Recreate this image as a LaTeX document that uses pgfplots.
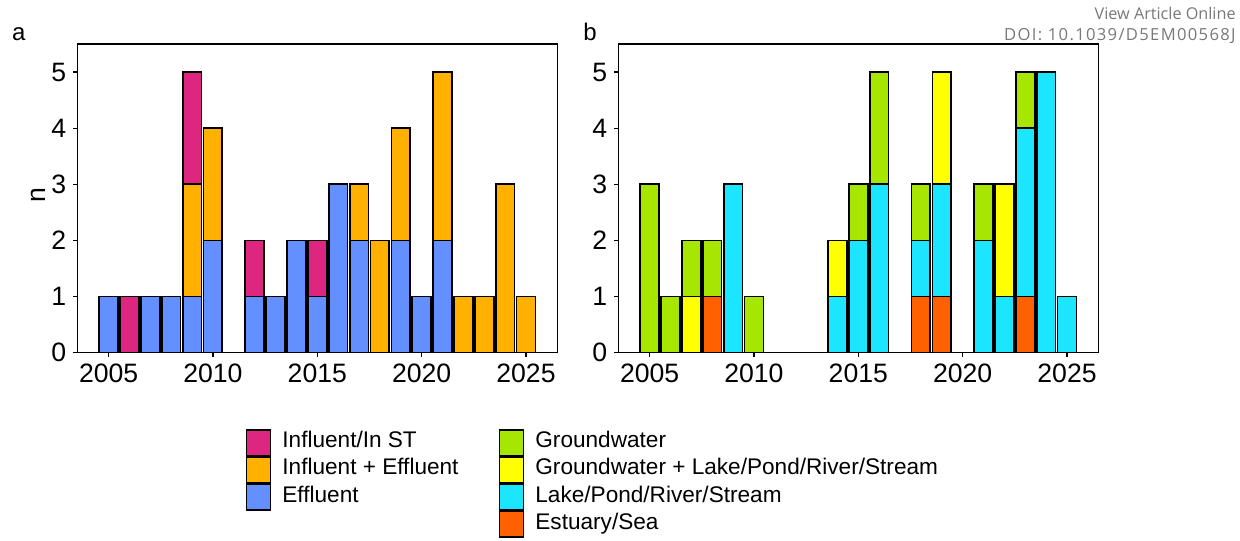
\documentclass[border=0pt]{standalone}
\usepackage{pgfplots}
\pgfplotsset{compat=1.18}
\usepackage{pgfplotstable}
\usepackage{fontspec}
\setmainfont{Liberation Sans}
\newfontfamily\wmfont{Open Sans}

\definecolor{influent}{HTML}{DC267F}
\definecolor{infeff}{HTML}{FFB000}
\definecolor{effluent}{HTML}{648FFF}
\definecolor{gw}{HTML}{A6E600}
\definecolor{gwl}{HTML}{FFFF00}
\definecolor{lake}{HTML}{1CE6FF}
\definecolor{sea}{HTML}{FF6100}
\definecolor{wmgrey}{RGB}{120,120,120}

% panel a: effluent / influent+effluent / influent (In ST)
\pgfplotstableread{
year eff ie inf
2005 1 0 0
2006 0 0 1
2007 1 0 0
2008 1 0 0
2009 1 2 2
2010 2 2 0
2012 1 0 1
2013 1 0 0
2014 2 0 0
2015 1 0 1
2016 3 0 0
2017 2 1 0
2018 0 2 0
2019 2 2 0
2020 1 0 0
2021 2 3 0
2022 0 1 0
2023 0 1 0
2024 0 3 0
2025 0 1 0
}\tabA

% panel b: estuary / lake / groundwater+lake / groundwater
\pgfplotstableread{
year sea lake gwl gw
2005 0 0 0 3
2006 0 0 0 1
2007 0 0 1 1
2008 1 0 0 1
2009 0 3 0 0
2010 0 0 0 1
2014 0 1 1 0
2015 0 2 0 1
2016 0 3 0 2
2018 1 1 0 1
2019 1 2 2 0
2021 0 2 0 1
2022 0 1 2 0
2023 1 3 0 1
2024 0 5 0 0
2025 0 1 0 0
}\tabB

\pgfplotsset{
  panel/.style={
    scale only axis, width=240pt, height=154.35pt,
    ybar stacked, bar width=0.9,
    xmin=2003.5, xmax=2026.5, ymin=0, ymax=5.5,
    xtick={2005,2010,...,2025}, ytick={0,...,5},
    /pgf/number format/1000 sep={},
    /pgf/number format/assume math mode=true,
    tick label style={font=\fontsize{13.3}{15}\selectfont},
    tick align=outside, tick pos=left,
    major tick length=2pt,
    tick style={black, line width=0.6pt},
    axis line style={black, line width=0.6pt},
    every axis plot/.append style={draw=black, line width=0.85pt},
    reverse legend,
    legend cell align=left,
    legend image code/.code={\draw[##1, line width=0.85pt] (0pt,-6.35pt) rectangle (12pt,6.35pt);},
    legend style={draw=none, fill=none, inner sep=0pt, row sep=0pt,
      font=\fontsize{11.3}{13}\selectfont,
      nodes={inner sep=0pt, text height=9pt, text depth=4pt},
      /tikz/every odd column/.append style={column sep=5.5pt},
      anchor=north west},
  },
}

\begin{document}
\begin{tikzpicture}
\useasboundingbox (0,0) rectangle (620pt,270pt);

\begin{axis}[panel, at={(38.65pt,93.65pt)}, anchor=south west,
  ylabel={n},
  ylabel style={at={(axis description cs:-0.082,0.51)}, anchor=center,
    font=\fontsize{13.3}{15}\selectfont},
  legend style={at={(axis description cs:0.35,-0.247)}}]
\addplot[fill=effluent] table[x=year, y=eff] {\tabA};
\addlegendentry{Effluent}
\addplot[fill=infeff] table[x=year, y=ie] {\tabA};
\addlegendentry{Influent + Effluent}
\addplot[fill=influent] table[x=year, y=inf] {\tabA};
\addlegendentry{Influent/In ST}
\end{axis}

\begin{axis}[panel, at={(309.15pt,93.65pt)}, anchor=south west,
  legend style={at={(axis description cs:-0.25,-0.247)}}]
\addplot[fill=sea] table[x=year, y=sea] {\tabB};
\addlegendentry{Estuary/Sea}
\addplot[fill=lake] table[x=year, y=lake] {\tabB};
\addlegendentry{Lake/Pond/River/Stream}
\addplot[fill=gwl] table[x=year, y=gwl] {\tabB};
\addlegendentry{Groundwater + Lake/Pond/River/Stream}
\addplot[fill=gw] table[x=year, y=gw] {\tabB};
\addlegendentry{Groundwater}
\end{axis}

\node[anchor=base west, inner sep=0pt, font=\fontsize{12}{14}\selectfont] at (5.8pt,249.65pt) {a};
\node[anchor=base west, inner sep=0pt, font=\fontsize{12}{14}\selectfont] at (291.5pt,249.65pt) {b};
\node[anchor=base east, inner sep=0pt, text=wmgrey, font=\wmfont\fontsize{8.1}{10}\selectfont] at (618pt,260pt) {View Article Online};
\node[anchor=base east, inner sep=0pt, text=wmgrey, font=\wmfont\fontsize{8.3}{10}\selectfont\addfontfeature{LetterSpace=8}] at (618pt,249.5pt) {DOI: 10.1039/D5EM00568J};
\end{tikzpicture}
\end{document}
